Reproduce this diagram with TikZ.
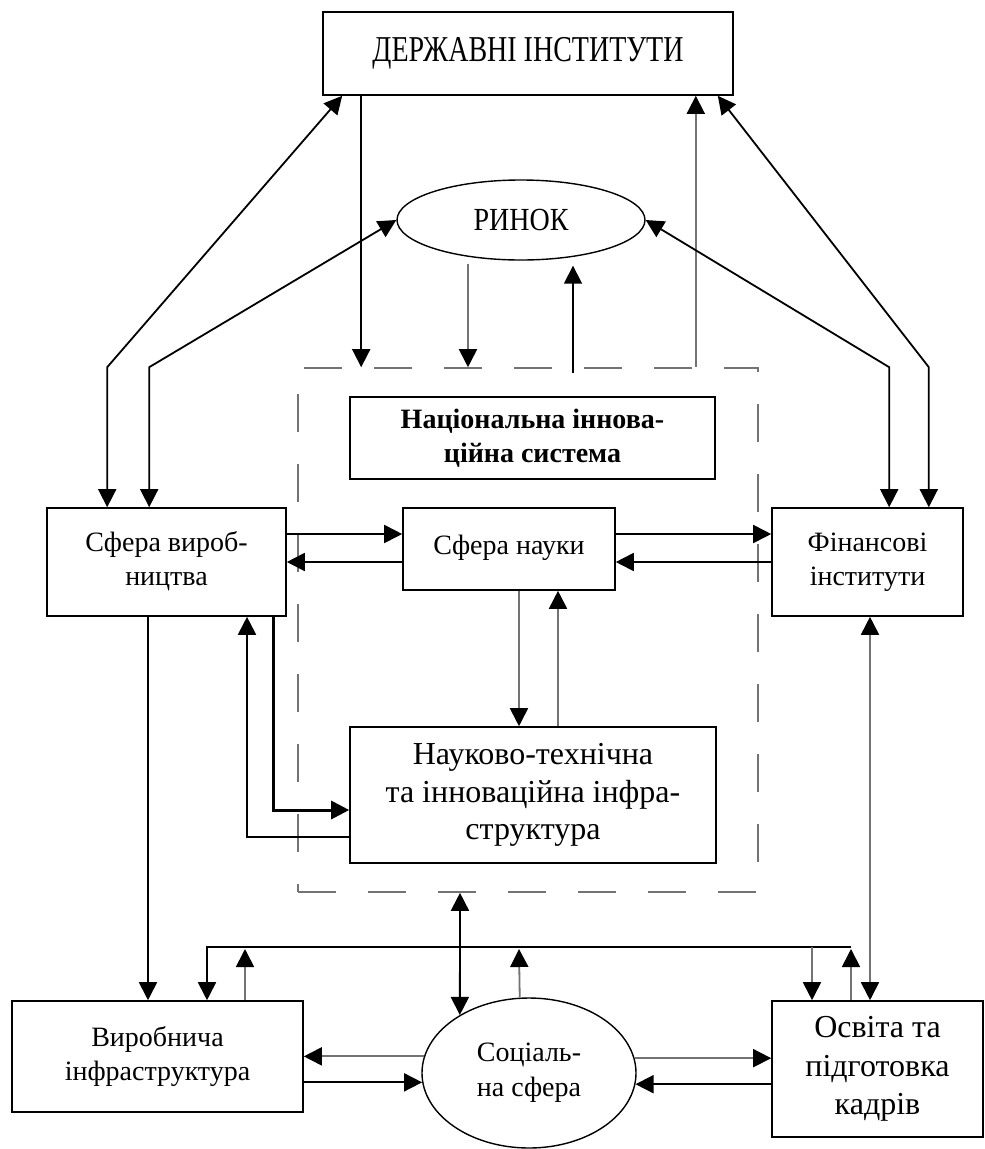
\documentclass[tikz,border=0pt]{standalone}
\usepackage{fontspec}
\setmainfont{Liberation Serif}
\usetikzlibrary{arrows.meta,shapes.geometric,calc}
\newcommand{\mlines}[2]{\raisebox{#1}{\begin{tabular}{@{}c@{}}#2\end{tabular}}}
\begin{document}
\begin{tikzpicture}[x=1pt,y=-1pt,
  box/.style={draw=black, line width=1.6pt, rectangle, inner sep=0pt, align=center, font=\fontsize{28}{34}\selectfont},
  oval/.style={draw=black, line width=1.4pt, ellipse, inner sep=0pt, align=center, font=\fontsize{28}{35}\selectfont},
  nisframe/.style={draw=black!55, line width=1.6pt, rectangle, inner sep=0pt, dash pattern=on 38pt off 32pt},
  arr/.style={-{Triangle[length=18pt,width=18pt,color=black]}},
  darr/.style={{Triangle[length=18pt,width=18pt,color=black]}-{Triangle[length=18pt,width=18pt,color=black]}},
  conn/.style={draw=black, line width=1.8pt},
  gconn/.style={draw=black!55, line width=1.8pt}
]
\fill[white] (0,0) rectangle (985,1149);
\useasboundingbox (0,0) rectangle (985,1149);

% nodes
\node[box, minimum width=410pt, minimum height=83pt] (gov) at (528,53.5) {\raisebox{3pt}{\scalebox{1}[1.3]{ДЕРЖАВНІ ІНСТИТУТИ}}};
\node[oval, minimum width=248pt, minimum height=80pt] (market) at (521,220) {\scalebox{1}[1.15]{РИНОК}};
\node[nisframe, minimum width=460pt, minimum height=524pt] (frame) at (528,630) {};
\node[box, minimum width=365pt, minimum height=82pt, font=\bfseries\fontsize{28}{34}\selectfont] (nis) at (532.5,438) {Національна іннова-\\ційна система};
\node[box, minimum width=239pt, minimum height=108pt] (prod) at (166.5,562) {\mlines{7pt}{Сфера вироб-\\ництва}};
\node[box, minimum width=212pt, minimum height=82pt] (sci) at (509,549) {\raisebox{9pt}{Сфера науки}};
\node[box, minimum width=191pt, minimum height=108pt] (fin) at (867.5,562) {\mlines{5pt}{Фінансові\\інститути}};
\node[box, minimum width=366pt, minimum height=136pt, font=\fontsize{32}{37.5}\selectfont] (nti) at (533,795) {Науково-технічна\\та інноваційна інфра-\\структура};
\node[box, minimum width=291pt, minimum height=111pt] (vir) at (157.5,1056.5) {\mlines{6pt}{Виробнича\\інфраструктура}};
\node[oval, minimum width=214pt, minimum height=150pt] (soc) at (529,1073) {Соціаль-\\на сфера};
\node[box, minimum width=211pt, minimum height=136pt, font=\fontsize{32}{38.5}\selectfont] (edu) at (877.5,1069) {Освіта та\\підготовка\\кадрів};

% top connectors
\draw[conn,darr] ([xshift=20pt]gov.south west) -- ([xshift=61pt]prod.north west |- frame.north) -- ([xshift=61pt]prod.north west);
\draw[conn,arr] ([xshift=39pt]gov.south west) -- ([xshift=39pt]gov.south west |- frame.north);
\draw[gconn,arr] ([xshift=-38pt]gov.south east |- frame.north) -- ([xshift=-38pt]gov.south east);
\draw[conn,darr] ([xshift=-16pt]gov.south east) -- ([xshift=-35pt]fin.north east |- frame.north) -- ([xshift=-35pt]fin.north east);
\draw[conn,darr] (market.west) -- ([xshift=103pt]prod.north west |- frame.north) -- ([xshift=103pt]prod.north west);
\draw[conn,darr] (market.east) -- ([xshift=118pt]fin.north west |- frame.north) -- ([xshift=118pt]fin.north west);
\draw[gconn,arr] ([xshift=-53pt,yshift=-3pt]market.south) -- ([xshift=-53pt]market.south |- frame.north);
\draw[conn,arr] ([xshift=52pt,yshift=-6pt]market.south |- frame.north) -- ([xshift=52pt,yshift=-5pt]market.south);

% middle connectors
\draw[conn,arr] (prod.east |- 0,534) -- (sci.west |- 0,534);
\draw[conn,arr] (sci.west |- 0,562) -- (prod.east |- 0,562);
\draw[conn,arr] (sci.east |- 0,534) -- (fin.west |- 0,534);
\draw[conn,arr] (fin.west |- 0,562) -- (sci.east |- 0,562);
\draw[gconn,arr] (sci.south -| 519,0) -- (nti.north -| 519,0);
\draw[gconn,arr] (nti.north -| 558,0) -- (sci.south -| 558,0);
\draw[conn,line width=3pt,arr] (prod.south -| 273,0) |- (nti.west |- 0,810);
\draw[conn,arr] (nti.west |- 0,837) -| (prod.south -| 247,0);
\draw[conn,arr] (prod.south -| 148,0) -- (vir.north -| 148,0);
\draw[gconn,darr] (fin.south -| 870,0) -- (edu.north -| 870,0);
\draw[conn,darr] (frame.south -| 460,0) -- (soc.140.4);

% bus
\coordinate (busR) at (851,947);
\coordinate (busL) at (207,947);
\draw[conn,arr] (busR) -- (busL) -- (vir.north -| busL);
\draw[gconn,arr] (edu.north -| busR) -- ([yshift=-2pt]busR);
\draw[gconn,arr] (vir.north -| 245,0) -- (245,949);
\draw[gconn,arr] (812,947) -- (edu.north -| 812,0);
\draw[gconn,arr] (soc.97.6) -- (519,949);

% bottom horizontal
\draw[gconn,arr] (soc.171.3) -- (vir.east |- soc.171.3);
\draw[conn,arr] (vir.east |- soc.185.9) -- (soc.185.9);
\draw[gconn,arr] (soc.8.7) -- (edu.west |- soc.8.7);
\draw[conn,arr] (edu.west |- soc.354.1) -- (soc.354.1);
\end{tikzpicture}
\end{document}
